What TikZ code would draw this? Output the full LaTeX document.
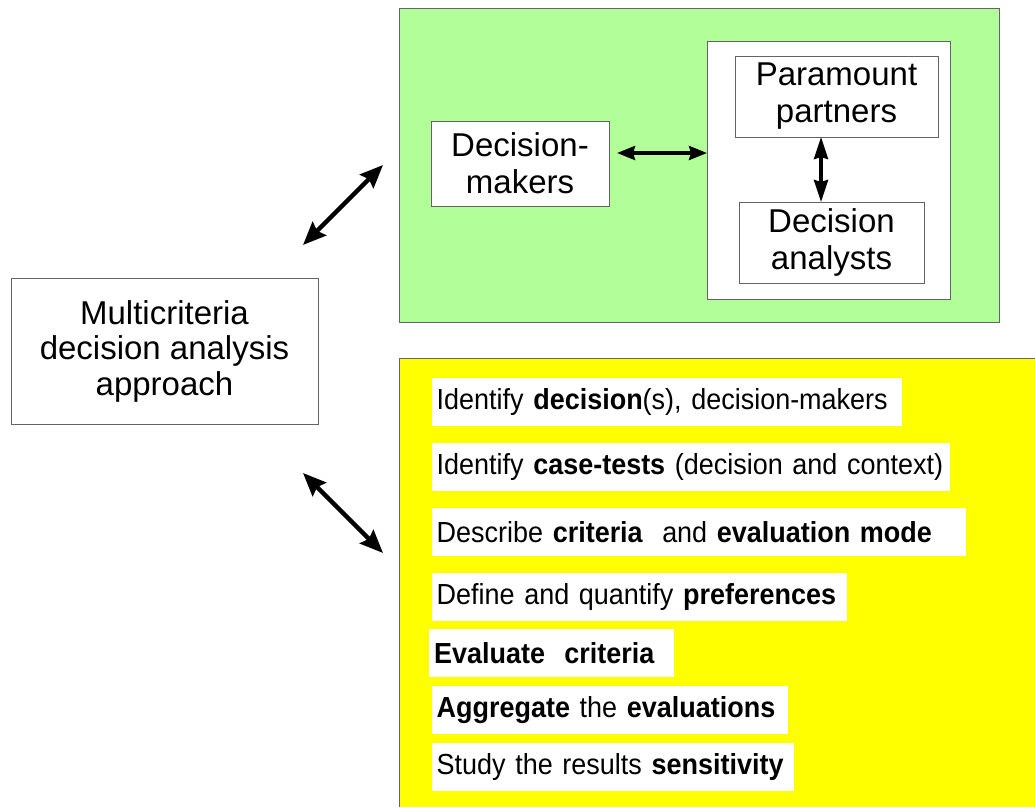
\documentclass[tikz,border=0pt]{standalone}
\usepackage{fontspec}
\setmainfont{Liberation Sans}
\newfontfamily\itemfont[FakeStretch=0.93]{Liberation Sans}
\usetikzlibrary{arrows.meta}
\definecolor{panelgreen}{RGB}{178,255,153}
\definecolor{panelyellow}{RGB}{255,255,0}
\definecolor{edgegray}{RGB}{100,100,100}
\begin{document}
\begin{tikzpicture}[x=1pt,y=-1pt,
  box/.style={draw=edgegray, line width=0.8pt, fill=white, align=center, inner sep=0pt,
    font=\fontsize{33}{37}\selectfont},
  item/.style={fill=white, anchor=north west, inner xsep=5pt, inner ysep=0pt,
    minimum height=48pt, align=left, font=\itemfont\fontsize{29}{32}\selectfont},
  bigarrow/.style={line width=4.5pt, {Stealth[length=23pt,width=19pt,inset=3pt]}-{Stealth[length=23pt,width=19pt,inset=3pt]}},
  harrow/.style={line width=3.5pt, {Stealth[length=18pt,width=14pt,inset=2pt]}-{Stealth[length=18pt,width=14pt,inset=2pt]}},
  varrow/.style={line width=3.5pt, {Stealth[length=22pt,width=14pt,inset=2pt]}-{Stealth[length=22pt,width=14pt,inset=2pt]}}
]
\useasboundingbox (0,0) rectangle (1035,807);
\fill[white] (0,0) rectangle (1035,807);

% green panel
\draw[draw=edgegray, line width=0.8pt, fill=panelgreen] (399,8) rectangle (999,322);
\node[box, minimum width=243pt, minimum height=258pt] (inner) at (828.5,170) {};
\node[box, minimum width=203pt, minimum height=81pt] (pp) at (836.5,96.5) {Paramount\\partners};
\node[box, minimum width=185pt, minimum height=81pt] (da) at (831.5,242.5) {Decision\\analysts};
\node[box, minimum width=178pt, minimum height=85pt] (dm) at (520,163.5) {Decision-\\makers};

% left box
\node[box, minimum width=307pt, minimum height=146pt, font=\fontsize{33}{35.5}\selectfont] (mcda) at (164.5,351) {Multicriteria\\decision analysis\\approach};

% yellow panel
\fill[panelyellow] (399,358) rectangle (1035,807);
\draw[edgegray, line width=0.8pt] (399,807) -- (399,358) -- (1035,358);

\node[item, text width=460pt] (s1) at (431.5,378) {Identify \textbf{decision}(s), decision-makers};
\node[item, text width=508pt] (s2) at (431.5,443) {Identify \textbf{case-tests} (decision and context)};
\node[item, text width=524pt] (s3) at (431.5,508) {Describe \textbf{criteria}~ and \textbf{evaluation mode}};
\node[item, text width=405pt] (s4) at (431.5,572.5) {Define and quantify \textbf{preferences}};
\node[item, text width=235pt] (s5) at (429,629) {\textbf{Evaluate~ criteria}};
\node[item, text width=346pt] (s6) at (431.5,686) {\textbf{Aggregate} the \textbf{evaluations}};
\node[item, text width=352pt] (s7) at (431.5,742.5) {Study the results \textbf{sensitivity}};

% arrow endpoints
\coordinate (a1s) at (303,245);
\coordinate (a1e) at (383,165);
\coordinate (a2s) at (303,473);
\coordinate (a2e) at (383,553);
\coordinate (hs) at (617,153);
\coordinate (he) at (707,153);
\coordinate (vs) at (821,137);
\coordinate (ve) at (821,202);

\draw[bigarrow] (a1s) -- (a1e);
\draw[bigarrow] (a2s) -- (a2e);
\draw[harrow] (hs) -- (he);
\draw[varrow] (vs) -- (ve);
\end{tikzpicture}
\end{document}
